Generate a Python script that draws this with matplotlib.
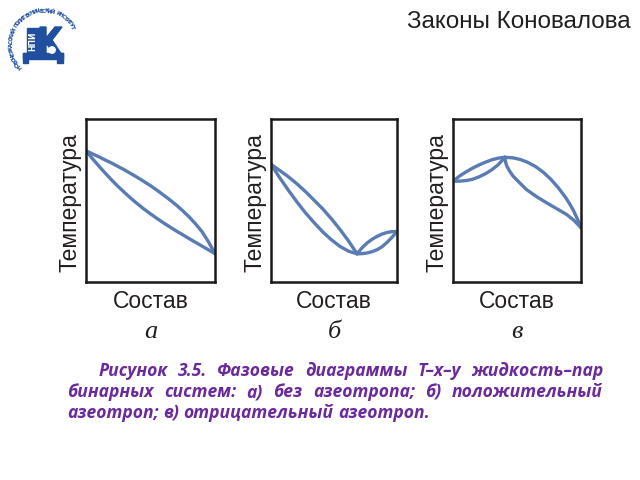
import numpy as np
import matplotlib
matplotlib.use("Agg")
import matplotlib.pyplot as plt
from matplotlib.patches import Rectangle, Polygon, Circle

# ---------------- data (axes units 0..1) ----------------
# panel a: no azeotrope
a_x = [0.0, 0.05, 0.1, 0.15, 0.2, 0.25, 0.3, 0.35, 0.4, 0.45, 0.5,
       0.55, 0.6, 0.65, 0.7, 0.75, 0.8, 0.85, 0.9, 0.95, 1.0]
a_vapor = [0.805, 0.786, 0.768, 0.748, 0.729, 0.708, 0.687, 0.664, 0.641, 0.616, 0.591,
           0.563, 0.534, 0.504, 0.472, 0.437, 0.399, 0.356, 0.308, 0.246, 0.174]
a_liquid = [0.805, 0.757, 0.711, 0.667, 0.625, 0.585, 0.548, 0.512, 0.479, 0.447, 0.418,
            0.390, 0.363, 0.338, 0.313, 0.290, 0.266, 0.243, 0.220, 0.197, 0.174]

# panel b: positive azeotrope (minimum boiling)
b_left_x = [0.0, 0.068, 0.137, 0.205, 0.273, 0.342, 0.410, 0.478, 0.546, 0.615, 0.683]
b_left_vapor = [0.722, 0.685, 0.646, 0.603, 0.555, 0.502, 0.449, 0.389, 0.324, 0.252, 0.173]
b_left_liquid = [0.722, 0.641, 0.564, 0.492, 0.425, 0.364, 0.308, 0.260, 0.219, 0.189, 0.173]
b_right_x = [0.683, 0.723, 0.762, 0.802, 0.842, 0.881, 0.921, 0.960, 1.0]
b_right_vapor = [0.173, 0.210, 0.239, 0.262, 0.280, 0.294, 0.304, 0.309, 0.310]
b_right_liquid = [0.173, 0.174, 0.178, 0.186, 0.198, 0.216, 0.243, 0.274, 0.310]

# panel c: negative azeotrope (maximum boiling)
c_left_x = [0.0, 0.051, 0.101, 0.152, 0.203, 0.253, 0.304, 0.354, 0.405]
c_left_vapor = [0.618, 0.650, 0.675, 0.698, 0.718, 0.735, 0.750, 0.760, 0.765]
c_left_liquid = [0.618, 0.619, 0.622, 0.630, 0.645, 0.664, 0.689, 0.720, 0.765]
c_right_x = [0.405, 0.465, 0.524, 0.584, 0.643, 0.703, 0.762, 0.822, 0.881,
             0.911, 0.941, 0.970, 1.0]
c_right_vapor = [0.765, 0.762, 0.752, 0.734, 0.709, 0.675, 0.632, 0.579, 0.517,
                 0.480, 0.439, 0.390, 0.333]
c_right_x2 = [0.405, 0.410, 0.420, 0.440, 0.470, 0.510, 0.574, 0.650, 0.731, 0.810, 0.888, 0.945, 1.0]
c_right_liquid = [0.765, 0.738, 0.712, 0.683, 0.649, 0.617, 0.567, 0.525, 0.486, 0.450, 0.414, 0.378, 0.333]

y_label = "Температура"
x_label = "Состав"
panel_letters = ["а", "б", "в"]
title = "Законы Коновалова"
caption_lines = [
    "Рисунок 3.5. Фазовые диаграммы T–x–y жидкость–пар",
    "бинарных систем: а) без азеотропа; б) положительный",
    "азеотроп; в) отрицательный азеотроп.",
]

# ---------------- figure ----------------
W, H = 640, 480
fig = plt.figure(figsize=(6.4, 4.8), dpi=100)
fig.patch.set_facecolor("white")

CURVE = "#5a7bb3"
TXT = "#231f20"
PURPLE = "#6a2a9c"

boxes = [(86, 215, 119, 282), (271, 397, 119, 282), (453, 581, 119, 282)]
axes = []
for (x0, x1, y0, y1) in boxes:
    ax = fig.add_axes([x0 / W, 1 - y1 / H, (x1 - x0) / W, (y1 - y0) / H])
    ax.set_xlim(0, 1)
    ax.set_ylim(0, 1)
    ax.set_xticks([])
    ax.set_yticks([])
    for s in ax.spines.values():
        s.set_linewidth(1.8)
        s.set_color("#1a1a1a")
    axes.append(ax)

lw = 2.4
kw = dict(color=CURVE, lw=lw, solid_capstyle="round", solid_joinstyle="round")
axes[0].plot(a_x, a_vapor, **kw)
axes[0].plot(a_x, a_liquid, **kw)
axes[1].plot(b_left_x, b_left_vapor, **kw)
axes[1].plot(b_left_x, b_left_liquid, **kw)
axes[1].plot(b_right_x, b_right_vapor, **kw)
axes[1].plot(b_right_x, b_right_liquid, **kw)
axes[2].plot(c_left_x, c_left_vapor, **kw)
axes[2].plot(c_left_x, c_left_liquid, **kw)
axes[2].plot(c_right_x, c_right_vapor, **kw)
axes[2].plot(c_right_x2, c_right_liquid, **kw)

for (x0, x1, y0, y1), letter in zip(boxes, panel_letters):
    cx = (x0 + x1) / 2
    fig.text((x0 - 16) / W, 1 - ((y0 + y1) / 2 + 2) / H, y_label, rotation=90,
             ha="center", va="center", fontsize=16.5, color=TXT,
             family="Liberation Sans")
    fig.text(cx / W, 1 - 302 / H, x_label, ha="center", va="center",
             fontsize=16.5, color=TXT, family="Liberation Sans")
    fig.text(cx / W, 1 - 338 / H, letter, ha="center", va="baseline",
             fontsize=19, color=TXT, family="Liberation Serif", style="italic")

fig.text(631 / W, 1 - 28 / H, title, ha="right", va="baseline",
         fontsize=17.5, color="#1f1f1f", family="Liberation Sans")

# ---------------- caption (justified) ----------------
renderer = fig.canvas.get_renderer()
cap_font = dict(family=["Open Sans", "DejaVu Sans"], weight="bold", style="italic",
                color=PURPLE)

probe = fig.text(0, 0, caption_lines[2], fontsize=13, **cap_font)
w3 = probe.get_window_extent(renderer).width
probe.remove()
cap_fs = 13 * 363.0 / w3

def place_line(line, x0, x1, ybase, justify):
    words = line.split(" ")
    texts = [fig.text(0, 1 - ybase / H, w, fontsize=cap_fs, va="baseline",
                      ha="left", **cap_font) for w in words]
    widths = [t.get_window_extent(renderer).width for t in texts]
    if justify and len(words) > 1:
        gap = (x1 - x0 - sum(widths)) / (len(words) - 1)
    else:
        sp = fig.text(0, 0, "a a", fontsize=cap_fs, **cap_font)
        sa = fig.text(0, 0, "aa", fontsize=cap_fs, **cap_font)
        gap = sp.get_window_extent(renderer).width - sa.get_window_extent(renderer).width
        sp.remove()
        sa.remove()
    x = x0
    for t, w in zip(texts, widths):
        t.set_x(x / W)
        x += w + gap

place_line(caption_lines[0], 99, 603, 376, True)
place_line(caption_lines[1], 67, 603, 397, True)
place_line(caption_lines[2], 67, 603, 418, False)

# ---------------- logo (decorative) ----------------
lg = fig.add_axes([0, 1 - 85 / H, 85 / W, 85 / H])
lg.set_xlim(0, 85)
lg.set_ylim(85, 0)
lg.axis("off")
BLUE = "#1f4f9e"
lg.add_patch(Rectangle((27, 28), 12, 26, color=BLUE))
lg.text(33, 41, "НПИ", rotation=90, color="white", fontsize=5.5, weight="bold",
        ha="center", va="center", family="DejaVu Sans")
lg.add_patch(Polygon([(40, 27), (46, 27), (46, 38), (55, 27), (62, 27), (52, 40),
                      (62, 55), (55, 55), (46, 43), (46, 55), (40, 55)], color=BLUE))
lg.add_patch(Rectangle((23, 53), 40, 6, color=BLUE))
lg.add_patch(Rectangle((23, 53), 5, 10, color=BLUE))
lg.add_patch(Rectangle((57, 53), 6, 10, color=BLUE))
lg.add_patch(Circle((52, 50), 3.2, color="white"))
arc_text = "НОВОЧЕРКАССКИЙ ПОЛИТЕХНИЧЕСКИЙ ИНСТИТУТ"
cx, cy, r = 44, 44, 33
angs = np.linspace(222, 30, len(arc_text))
for ch, a in zip(arc_text, angs):
    t = np.deg2rad(a)
    lg.text(cx + r * np.cos(t), cy - r * np.sin(t), ch, rotation=a - 90,
            fontsize=4.0, color=BLUE, ha="center", va="center",
            family="DejaVu Sans", weight="bold")

fig.savefig("out.png", dpi=100)
